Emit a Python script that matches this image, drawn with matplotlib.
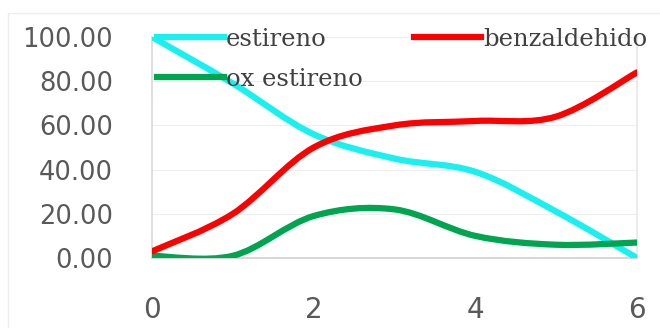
import matplotlib.pyplot as plt
from matplotlib.path import Path
from matplotlib.patches import PathPatch, Rectangle
from matplotlib.lines import Line2D

# data
x = [0, 1, 2, 3, 4, 5, 6]
estireno = [100, 79, 56, 45, 39, 21, 0]
benzaldehido = [3, 20, 50, 60, 62, 64, 84]
ox_estireno = [1, 1, 19, 22, 10, 6, 7]

labels = ['estireno', 'ox estireno', 'benzaldehido']
colors = ['#19F0F0', '#00A550', '#FF0000']
series = [estireno, ox_estireno, benzaldehido]


def smooth_path(xs, ys):
    # Excel-like smoothed line: cubic bezier segments through the data points
    pts = list(zip(xs, ys))
    n = len(pts)
    verts = [pts[0]]
    codes = [Path.MOVETO]
    for i in range(n - 1):
        p0 = pts[max(i - 1, 0)]
        p1 = pts[i]
        p2 = pts[i + 1]
        p3 = pts[min(i + 2, n - 1)]
        c1 = (p1[0] + (p2[0] - p0[0]) / 6, p1[1] + (p2[1] - p0[1]) / 6)
        c2 = (p2[0] - (p3[0] - p1[0]) / 6, p2[1] - (p3[1] - p1[1]) / 6)
        verts += [c1, c2, p2]
        codes += [Path.CURVE4] * 3
    return Path(verts, codes)


fig = plt.figure(figsize=(6.6, 3.28), dpi=100)
ax = fig.add_axes([152 / 660, 70 / 328, 485 / 660, 221 / 328])

for ys, c in zip(series, colors):
    patch = PathPatch(smooth_path(x, ys), fill=False, edgecolor=c,
                      linewidth=4.5, capstyle='round', joinstyle='round',
                      transform=ax.transData, zorder=3)
    ax.add_patch(patch)

ax.set_xlim(0, 6)
ax.set_ylim(0, 100)
ax.set_xticks([0, 2, 4, 6])
ax.set_yticks([0, 20, 40, 60, 80, 100])
ax.set_yticklabels(['%.2f' % v for v in [0, 20, 40, 60, 80, 100]])

ax.tick_params(axis='y', length=0, pad=28, labelsize=18.5, labelcolor='#595959')
ax.tick_params(axis='x', length=0, pad=27, labelsize=20, labelcolor='#595959')

ax.grid(axis='y', color='#eeeeee', linewidth=0.8)
ax.set_axisbelow(True)
ax.spines['top'].set_visible(False)
ax.spines['left'].set_color('#d9d9d9')
ax.spines['right'].set_color('#e8e8e8')
ax.spines['bottom'].set_color('#d0d0d0')
for s in ['left', 'right', 'bottom']:
    ax.spines[s].set_linewidth(1.2)

handles = [Line2D([], [], color=c, linewidth=4.5) for c in colors]
leg = ax.legend(handles, labels, ncol=2, frameon=False, loc='upper left',
                bbox_to_anchor=(-0.01, 1.085), handlelength=2.75,
                handletextpad=0.1, columnspacing=2.1, labelspacing=0.7,
                borderaxespad=0,
                prop={'family': 'DejaVu Serif', 'size': 17.5})
for t in leg.get_texts():
    t.set_color('#404040')

# faint chart-area border
fig.patches.append(Rectangle((8 / 660, -0.05), 1.2, 1.01, transform=fig.transFigure,
                             fill=False, edgecolor='#eeeeee', linewidth=1))

fig.savefig('out.png', dpi=100)
